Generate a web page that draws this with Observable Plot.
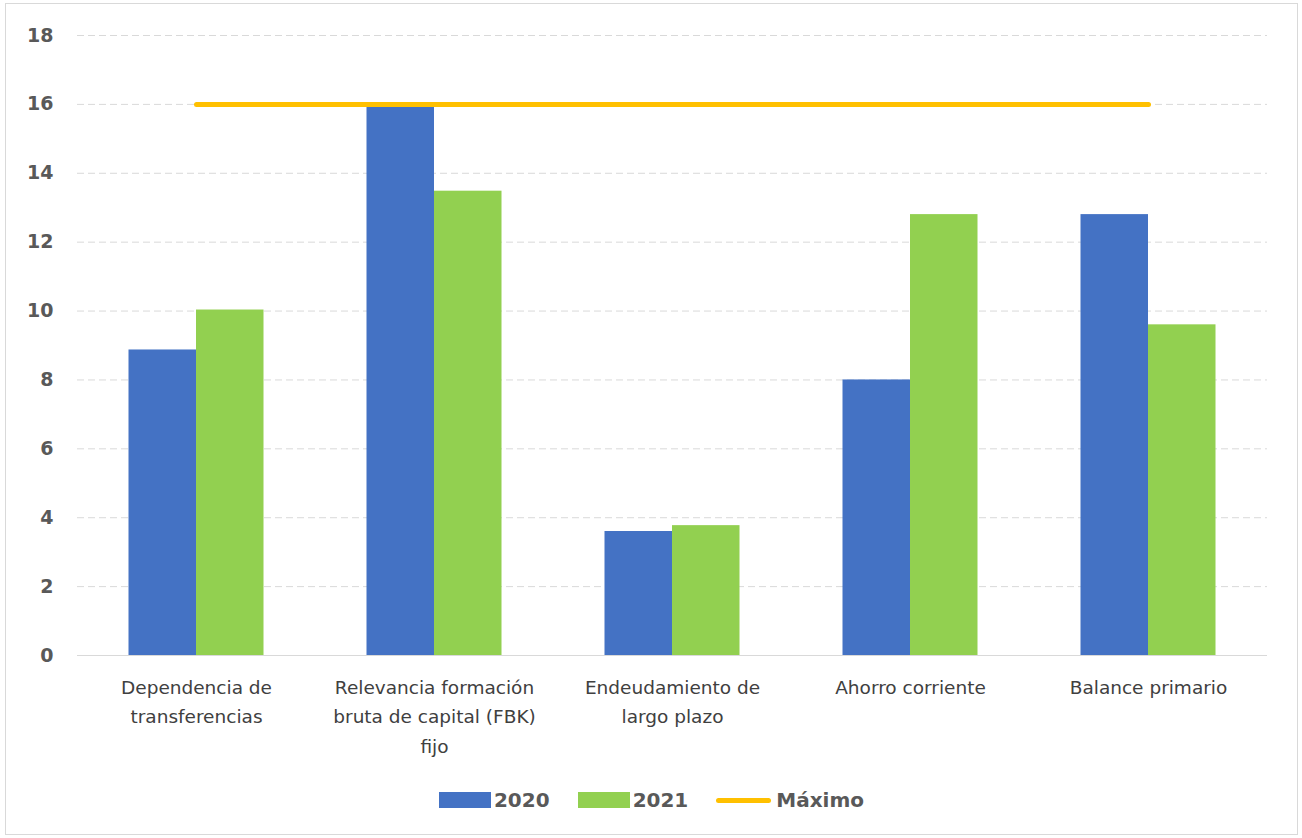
<!DOCTYPE html>
<html>
<head>
<meta charset="utf-8">
<script src="https://cdn.jsdelivr.net/npm/d3@7"></script>
<script src="https://cdn.jsdelivr.net/npm/@observablehq/plot@0.6"></script>
<style>
  html, body { margin: 0; padding: 0; background: #fff; }
  #frame { position: absolute; left: 5px; top: 3px; width: 1291px; height: 830px; border: 1px solid #d9d9d9; background: #fff; }
  #chart svg { display: block; }
  #legend { position: absolute; left: 0; right: 0; top: 784px; display: flex; justify-content: center; align-items: center;
            font-family: "DejaVu Sans", sans-serif; font-weight: bold; font-size: 20px; color: #595959; }
  .item { display: flex; align-items: center; margin: 0 14px; }
  .sw { width: 52px; height: 16px; margin-right: 3px; }
  .ln { width: 55px; height: 5px; border-radius: 3px; margin-right: 5px; }
</style>
</head>
<body>
<div id="frame">
  <div id="chart"></div>
  <div id="legend"></div>
</div>
<script>
const categories = [
  "Dependencia de transferencias",
  "Relevancia formación bruta de capital (FBK) fijo",
  "Endeudamiento de largo plazo",
  "Ahorro corriente",
  "Balance primario"
];
const tickLabels = [
  "Dependencia de\ntransferencias",
  "Relevancia formación\nbruta de capital (FBK)\nfijo",
  "Endeudamiento de\nlargo plazo",
  "Ahorro corriente",
  "Balance primario"
];
const values2020 = [8.87, 15.92, 3.6, 8.0, 12.8];
const values2021 = [10.03, 13.48, 3.77, 12.8, 9.6];
const maximo = [16, 16, 16, 16, 16];
const seriesNames = ["2020", "2021", "Máximo"];
const colors = ["#4472C4", "#92D050", "#FFC000"];

const W = 1291, H = 770, ML = 71, MR = 30, MT = 31, MB = 119;
const band = (W - ML - MR) / categories.length;
const barW = 67.5;

const rows2020 = categories.map((c, i) => ({cat: c, v: values2020[i]}));
const rows2021 = categories.map((c, i) => ({cat: c, v: values2021[i]}));
const rowsMax = categories.map((c, i) => ({cat: c, v: maximo[i]}));
const labelOf = new Map(categories.map((c, i) => [c, tickLabels[i]]));

const chart = Plot.plot({
  width: W, height: H,
  marginLeft: ML, marginRight: MR, marginTop: MT, marginBottom: MB,
  style: {fontFamily: "'DejaVu Sans', sans-serif", background: "#fff"},
  x: {domain: categories, padding: 0, label: null},
  y: {domain: [0, 18], ticks: d3.range(0, 19, 2), label: null},
  marks: [
    Plot.ruleY(d3.range(2, 19, 2), {stroke: "#d9d9d9", strokeWidth: 1, strokeDasharray: "7,4"}),
    Plot.barY(rows2020, {x: "cat", y: "v", fill: colors[0], insetLeft: band / 2 - barW, insetRight: band / 2}),
    Plot.barY(rows2021, {x: "cat", y: "v", fill: colors[1], insetLeft: band / 2, insetRight: band / 2 - barW}),
    Plot.ruleY([0], {stroke: "#d9d9d9", strokeWidth: 1}),
    Plot.lineY(rowsMax, {x: "cat", y: "v", stroke: colors[2], strokeWidth: 5, strokeLinecap: "round"}),
    Plot.axisY({ticks: d3.range(0, 19, 2), tickSize: 0, tickPadding: 24, fontSize: 19, fontWeight: "bold", fill: "#595959", label: null}),
    Plot.axisX({tickSize: 0, tickPadding: 17, fontSize: 18.5, fill: "#404040", lineHeight: 1.6, tickFormat: d => labelOf.get(d), label: null})
  ]
});
document.getElementById("chart").appendChild(chart);

const legend = document.getElementById("legend");
seriesNames.forEach((name, i) => {
  const item = document.createElement("div");
  item.className = "item";
  const sw = document.createElement("div");
  sw.className = i < 2 ? "sw" : "ln";
  sw.style.background = colors[i];
  const t = document.createElement("span");
  t.textContent = name;
  item.appendChild(sw); item.appendChild(t);
  legend.appendChild(item);
});
</script>
</body>
</html>
